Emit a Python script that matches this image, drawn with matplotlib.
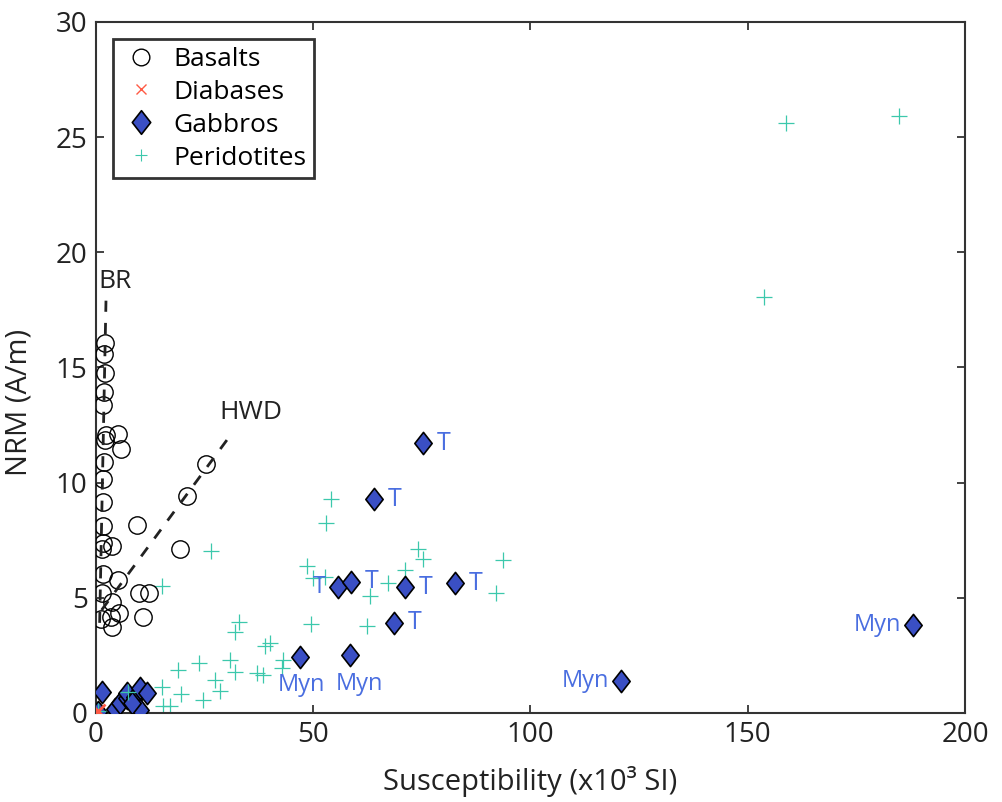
import matplotlib.pyplot as plt
from matplotlib.lines import Line2D
from matplotlib.path import Path
import numpy as np

plt.rcParams['font.family'] = ['Open Sans', 'DejaVu Sans']

# Basalts (open circles)
basalt_x = [2.1, 1.8, 2.0, 1.8, 1.6, 2.3, 5.1, 5.8, 2.0, 1.8, 1.6, 1.6, 1.6, 1.6,
            3.7, 1.4, 19.3, 20.9, 25.3, 9.4, 1.6, 5.1, 1.4, 9.9, 12.2, 3.7, 5.3,
            3.5, 1.2, 10.8, 3.7]
basalt_y = [16.07, 15.6, 14.76, 13.94, 13.37, 12.07, 12.1, 11.46, 11.85, 10.9, 10.16,
            9.16, 8.12, 7.38, 7.25, 7.12, 7.12, 9.42, 10.81, 8.16, 6.04, 5.78, 5.21,
            5.21, 5.21, 4.82, 4.34, 4.17, 4.08, 4.17, 3.73]

# Diabases (red crosses)
diabase_x = [0.5]
diabase_y = [0.08]

# Gabbros (blue diamonds)
gabbro_x = [1.45, 0.5, 4.4, 5.5, 7.1, 7.1, 9.0, 10.1, 11.7, 10.1, 8.2,
            75.3, 64.0, 55.8, 58.6, 71.2, 82.6, 68.5, 46.9, 58.5, 120.9, 188.1]
gabbro_y = [0.93, 0.06, 0.17, 0.43, 0.65, 0.87, 0.71, 1.08, 0.87, 0.13, 0.43,
            11.72, 9.27, 5.46, 5.70, 5.46, 5.63, 3.92, 2.44, 2.52, 1.37, 3.82]

# Peridotites (cyan plus)
perid_x = [158.7, 184.8, 153.7, 93.6, 92.0, 54.0, 52.9, 74.2, 75.3, 48.5, 50.0, 52.7,
           71.1, 67.3, 63.1, 49.4, 62.4, 26.5, 15.1, 33.0, 32.0, 40.0, 38.9, 23.8,
           18.9, 30.8, 32.0, 27.4, 28.5, 37.0, 38.5, 43.0, 42.7, 15.1, 19.5, 24.7,
           15.5, 17.0, 7.4, 0.5]
perid_y = [25.6, 25.92, 18.05, 6.64, 5.22, 9.29, 8.26, 7.12, 6.69, 6.38, 5.85, 5.92,
           6.21, 5.66, 5.08, 3.86, 3.78, 7.05, 5.51, 3.97, 3.53, 3.02, 2.91, 2.16,
           1.87, 2.30, 1.79, 1.43, 0.95, 1.72, 1.65, 2.30, 1.94, 1.14, 0.82, 0.56,
           0.30, 0.30, 0.93, 0.1]

# labelled gabbros: (x, y, text, side)
label_pts = [(75.3, 11.72, 'T', 'r'), (64.0, 9.27, 'T', 'r'), (55.8, 5.46, 'T', 'l'),
             (58.6, 5.70, 'T', 'r'), (71.2, 5.46, 'T', 'r'), (82.6, 5.63, 'T', 'r'),
             (68.5, 3.92, 'T', 'r'), (46.9, 2.44, 'Myn', 'b'), (58.5, 2.52, 'Myn', 'br'),
             (120.9, 1.37, 'Myn', 'l'), (188.1, 3.82, 'Myn', 'l')]

br_line = ([2.3, 0.8], [17.9, 3.5])
hwd_line = ([1.3, 31.5], [4.47, 12.2])

diamond = Path([(0, 1), (0.78, 0), (0, -1), (-0.78, 0), (0, 1)],
               [Path.MOVETO, Path.LINETO, Path.LINETO, Path.LINETO, Path.CLOSEPOLY])

blue = '#3a4fc4'
cyan = '#3cc8ac'
lab_col = '#4a6ee0'
ink = '#222222'

fig = plt.figure(figsize=(10.03, 8.02), dpi=100)
ax = fig.add_axes([0.0957, 0.111, 0.8664, 0.8616])

ax.plot(perid_x, perid_y, '+', color=cyan, ms=12, mew=0.9, zorder=2)
ax.plot(basalt_x, basalt_y, 'o', mfc='none', mec='black', ms=12.5, mew=1.0, zorder=3)
ax.plot(*br_line, '--', color=ink, lw=2, dashes=(4, 4), zorder=4)
ax.plot(*hwd_line, '--', color=ink, lw=2, dashes=(4, 4), zorder=4)
ax.plot(gabbro_x, gabbro_y, ls='none', marker=diamond, mfc=blue, mec='black',
        ms=16, mew=1.2, zorder=5)
ax.plot(perid_x[-2:], perid_y[-2:], '+', color=cyan, ms=12, mew=0.9, zorder=6)
ax.plot(diabase_x, diabase_y, 'x', color='#ff5a45', ms=10, mew=2, zorder=7)

for x, y, t, side in label_pts:
    if side == 'r':
        ax.annotate(t, (x, y), xytext=(10, 0), textcoords='offset points',
                    ha='left', va='center', color=lab_col, fontsize=18)
    elif side == 'l':
        ax.annotate(t, (x, y), xytext=(-9, 0), textcoords='offset points',
                    ha='right', va='center', color=lab_col, fontsize=17)
    elif side == 'br':
        ax.annotate(t, (x, y), xytext=(7, -12), textcoords='offset points',
                    ha='center', va='top', color=lab_col, fontsize=17)
    else:
        ax.annotate(t, (x, y), xytext=(1, -12), textcoords='offset points',
                    ha='center', va='top', color=lab_col, fontsize=17)

ax.text(0.5, 18.2, 'BR', fontsize=19, color=ink, ha='left', va='bottom')
ax.text(28.5, 12.5, 'HWD', fontsize=19, color=ink, ha='left', va='bottom')

ax.set_xlim(0, 200)
ax.set_ylim(0, 30)
ax.set_xticks(np.arange(0, 201, 50))
ax.set_yticks(np.arange(0, 31, 5))
ax.tick_params(direction='in', length=6, width=1.2, top=True, right=True,
               labelsize=20, colors=ink, pad=6)
for s in ax.spines.values():
    s.set_linewidth(1.5)
    s.set_color('#333333')
ax.set_xlabel('Susceptibility (x10³ SI)', fontsize=21, color=ink, labelpad=12)
ax.set_ylabel('NRM (A/m)', fontsize=21, color=ink, labelpad=10)
ax.yaxis.set_label_coords(-0.072, 0.45)

handles = [
    Line2D([], [], ls='none', marker='o', mfc='none', mec='black', ms=12, mew=1),
    Line2D([], [], ls='none', marker='x', color='#ff5a45', ms=7, mew=1),
    Line2D([], [], ls='none', marker=diamond, mfc=blue, mec='black', ms=17, mew=1.2),
    Line2D([], [], ls='none', marker='+', color=cyan, ms=9, mew=0.8),
]
leg = ax.legend(handles, ['Basalts', 'Diabases', 'Gabbros', 'Peridotites'],
                loc='upper left', fontsize=19, frameon=True, fancybox=False,
                borderaxespad=0.64, handletextpad=0.5, labelspacing=0.3,
                borderpad=0.3, handlelength=1.5)
leg.get_frame().set_edgecolor('black')
leg.get_frame().set_linewidth(2)

fig.savefig('out.png', dpi=100)
